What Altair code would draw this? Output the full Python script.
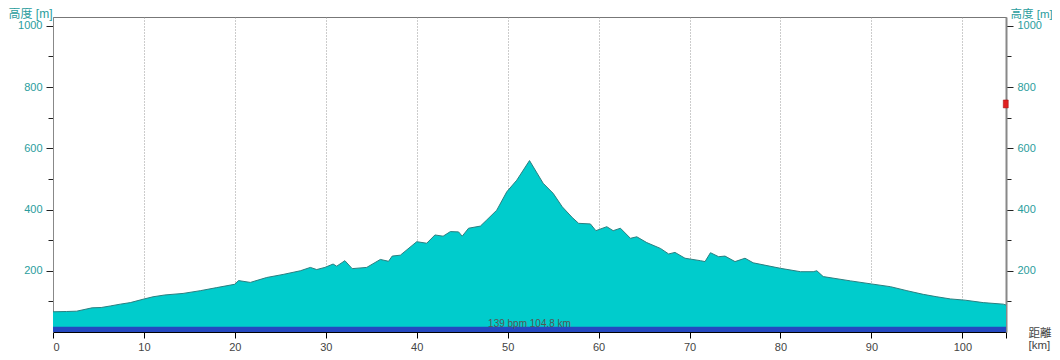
import altair as alt
import pandas as pd

# Elevation profile (km, m)
km = [0, 1.5, 2.6, 4.3, 5.3, 6.3, 7.4, 8.5, 9.9, 11, 12.3, 14.3, 16.2, 18, 20, 20.4,
      21.7, 23.5, 25.3, 27.2, 28.3, 29, 29.9, 30.8, 31.2, 32.1, 32.9, 34.5, 36, 36.9,
      37.3, 38.2, 40, 41.1, 42, 42.9, 43.7, 44.6, 45, 45.7, 47, 47.7, 48.8, 49.9, 51,
      52.4, 53.9, 55, 56, 57.1, 57.8, 59.1, 59.7, 60.9, 61.6, 62.4, 63.5, 64.2, 65.3,
      66.8, 67.7, 68.4, 69.5, 71.2, 71.7, 72.3, 73.2, 73.9, 75, 76.1, 77, 80, 82.2,
      83.6, 84, 84.7, 87.7, 90, 92.1, 93.9, 95.7, 97.2, 98.7, 100.3, 102.3, 104.5, 104.8]
elev = [66, 67, 68, 79, 80, 85, 91, 96, 107, 115, 121, 126, 135, 145, 156, 168,
        162, 178, 188, 200, 211, 204, 211, 222, 215, 233, 207, 211, 237, 231,
        248, 251, 295, 290, 317, 313, 328, 327, 313, 339, 346, 366, 398, 458, 496,
        560, 486, 453, 409, 374, 355, 353, 331, 344, 331, 339, 306, 311, 292,
        273, 255, 260, 241, 233, 230, 259, 246, 248, 230, 241, 226, 208, 197,
        197, 200, 181, 167, 157, 148, 135, 123, 115, 108, 104, 96, 91, 88]

total_km = 104.8
y_max = 1029
band_top = [17]
summary_text = ["139 bpm 104.8 km"]
summary_km = [52.4]
summary_elev = [25]
# small red marker at the right edge (km range, elevation range)
marker_x0 = [104.5]
marker_x1 = [105.05]
marker_y0 = [732]
marker_y1 = [758]

x_ticks = [0, 10, 20, 30, 40, 50, 60, 70, 80, 90, 100, 104.8]
y_ticks = [100, 200, 300, 400, 500, 600, 700, 800, 900, 1000]

FONT = "Liberation Sans, Noto Sans CJK JP"
TEAL = "#2a9d9d"

prof = pd.DataFrame({"km": km, "elev": elev})
band = pd.DataFrame({"x0": [0], "x1": [total_km], "y0": [0], "y1": band_top})
txt = pd.DataFrame({"km": summary_km, "elev": summary_elev, "t": summary_text})
mk = pd.DataFrame({"x0": marker_x0, "x1": marker_x1, "y0": marker_y0, "y1": marker_y1})

xscale = alt.Scale(domain=[0, total_km], nice=False, zero=False)
yscale = alt.Scale(domain=[0, y_max], nice=False)

x_axis = alt.Axis(
    values=x_ticks,
    labelExpr="datum.value > 101 ? '' : datum.label",
    domainColor="#000", tickColor="#000", tickSize=6, tickWidth=1,
    labelColor="#444", labelFontSize=11, labelFont=FONT, labelPadding=3,
    grid=True, gridDash=[1, 2], gridColor="#999",
    gridOpacity={"condition": {"test": "datum.value > 0 && datum.value < 101", "value": 1}, "value": 0},
    title=["距離", "[km]"], titleAngle=0, titleAlign="left", titleBaseline="top",
    titleX=975, titleY=-5, titleFontSize=11.5, titleFontWeight="normal",
    titleColor="#444", titleFont=FONT, titleLineHeight=12,
)

def y_axis(orient):
    return alt.Axis(
        orient=orient,
        values=y_ticks,
        format="d",
        labelExpr="datum.value % 200 === 0 ? format(datum.value, 'd') : ''",
        tickSize={"condition": {"test": "datum.value % 200 === 0", "value": 7}, "value": 5},
        tickColor="#222", domainColor="#888", domainWidth=1 if orient == "left" else 2,
        labelColor=TEAL, labelFontSize=11, labelFont=FONT, labelPadding=4,
        grid=False,
        title="高度 [m]", titleAngle=0, titleAlign="left", titleBaseline="top",
        titleX=-45 if orient == "left" else 4, titleY=-9,
        titleFontSize=12 if orient == "left" else 11.5,
        titleFontWeight="normal", titleColor=TEAL, titleFont=FONT,
    )

left_axis = y_axis("left")
right_axis = y_axis("right")

area = alt.Chart(prof).mark_area(
    color="#00cccc", opacity=1, fillOpacity=1,
    line={"color": "#2a7f80", "strokeWidth": 1}, interpolate="linear"
).encode(
    x=alt.X("km:Q", scale=xscale, axis=x_axis),
    y=alt.Y("elev:Q", scale=yscale, axis=left_axis),
)

band_l = alt.Chart(band).mark_rect(color="#2448c0", opacity=1).encode(
    x=alt.X("x0:Q", scale=xscale, axis=x_axis), x2="x1:Q",
    y=alt.Y("y0:Q", scale=yscale, axis=left_axis), y2="y1:Q",
)

text_l = alt.Chart(txt).mark_text(
    fontSize=10, color="#555", font=FONT, align="center", baseline="middle"
).encode(
    x=alt.X("km:Q", scale=xscale, axis=x_axis),
    y=alt.Y("elev:Q", scale=yscale, axis=left_axis),
    text="t:N",
)

left = alt.layer(area, band_l, text_l)

marker = alt.Chart(mk).mark_rect(
    color="#e02020", opacity=1, stroke="#a01010", strokeWidth=0.5
).encode(
    x=alt.X("x0:Q", scale=xscale, axis=x_axis), x2="x1:Q",
    y=alt.Y("y0:Q", scale=yscale, axis=right_axis), y2="y1:Q",
)

chart = alt.layer(left, marker).resolve_scale(y="independent").properties(
    width=953, height=315,
    autosize=alt.AutoSizeParams(type="none"),
    padding={"left": 45, "top": 9, "right": 46, "bottom": 20},
    background="white",
).configure_view(stroke="#777", strokeWidth=1)

chart.save("out.html", embed_options={"renderer": "svg", "actions": False})
